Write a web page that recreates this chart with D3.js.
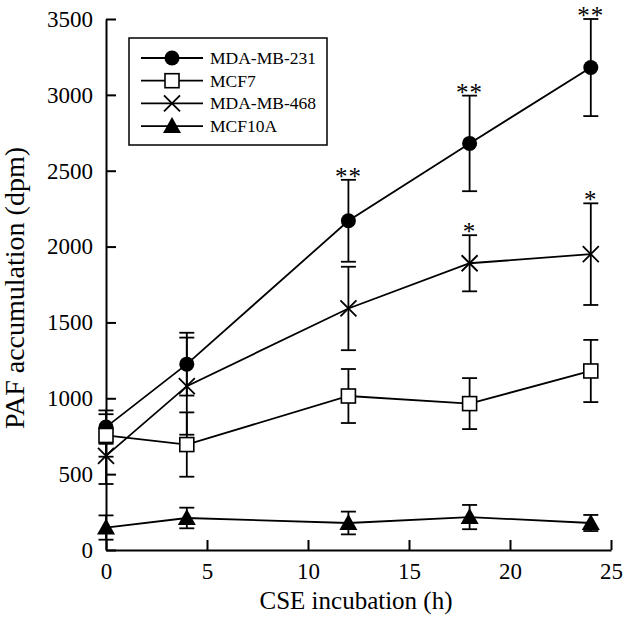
<!DOCTYPE html>
<html>
<head>
<meta charset="utf-8">
<script src="https://cdn.jsdelivr.net/npm/d3@7"></script>
<style>
  body { margin: 0; background: #fff; }
  svg, svg text { font-family: "Liberation Serif", "Times New Roman", Times, serif !important; fill: #000; }
</style>
</head>
<body>
<script>
const width = 625;
const height = 622;

// data
const hours = [0, 4, 12, 18, 24];
const mdamb231 = [810, 1225, 2170, 2680, 3180];
const mdamb231Err = [110, 207, 270, 315, 320];
const mcf7 = [755, 695, 1015, 965, 1180];
const mcf7Err = [140, 212, 178, 168, 205];
const mdamb468 = [620, 1080, 1592, 1890, 1950];
const mdamb468Err = [185, 320, 275, 185, 335];
const mcf10a = [148, 211, 178, 217, 178];
const mcf10aErr = [80, 68, 75, 80, 53];
const stars231 = ['', '', '**', '**', '**'];
const stars468 = ['', '', '', '*', '*'];
const seriesNames = ['MDA-MB-231', 'MCF7', 'MDA-MB-468', 'MCF10A'];
const xTicks = [0, 5, 10, 15, 20, 25];
const yTicks = [0, 500, 1000, 1500, 2000, 2500, 3000, 3500];

const series = [
  { name: seriesNames[0], vals: mdamb231, err: mdamb231Err, stars: stars231, shape: 'circle' },
  { name: seriesNames[1], vals: mcf7, err: mcf7Err, stars: null, shape: 'square' },
  { name: seriesNames[2], vals: mdamb468, err: mdamb468Err, stars: stars468, shape: 'cross' },
  { name: seriesNames[3], vals: mcf10a, err: mcf10aErr, stars: null, shape: 'triangle' }
];

const serif = '"Liberation Serif", "Times New Roman", Times, serif';

const svg = d3.select('body').append('svg')
    .attr('width', width)
    .attr('height', height)
    .style('font-family', serif);

const x = d3.scaleLinear().domain([0, 25]).range([106, 611]);
const y = d3.scaleLinear().domain([0, 3500]).range([550, 19]);

// axes, ticks pointing inward
const xAxis = svg.append('g')
    .attr('transform', `translate(0,${y(0)})`)
    .call(d3.axisBottom(x).tickValues(xTicks).tickFormat(d3.format('d'))
      .tickSize(-10).tickPadding(13).tickSizeOuter(0));
const yAxis = svg.append('g')
    .attr('transform', `translate(${x(0)},0)`)
    .call(d3.axisLeft(y).tickValues(yTicks).tickFormat(d3.format('d'))
      .tickSize(-10).tickPadding(13).tickSizeOuter(0));

[xAxis, yAxis].forEach(g => {
  g.attr('font-family', null).attr('font-size', null);
  g.selectAll('path, line').attr('stroke', '#000').attr('stroke-width', 2);
  g.selectAll('text').style('font-size', '23px').style('font-family', serif);
});

svg.append('text')
    .attr('x', 356).attr('y', 609)
    .attr('text-anchor', 'middle')
    .style('font-size', '25px')
    .text('CSE incubation (h)');

svg.append('text')
    .attr('transform', 'translate(24,288) rotate(-90)')
    .attr('text-anchor', 'middle')
    .style('font-size', '28px')
    .text('PAF accumulation (dpm)');

function drawMarker(g, shape, cx, cy) {
  if (shape === 'circle') {
    g.append('circle').attr('cx', cx).attr('cy', cy).attr('r', 7.5).attr('fill', '#000');
  } else if (shape === 'square') {
    g.append('rect').attr('x', cx - 7).attr('y', cy - 7).attr('width', 14).attr('height', 14)
      .attr('fill', '#fff').attr('stroke', '#000').attr('stroke-width', 1.6);
  } else if (shape === 'cross') {
    g.append('path').attr('d', `M${cx - 8},${cy - 8}L${cx + 8},${cy + 8}M${cx - 8},${cy + 8}L${cx + 8},${cy - 8}`)
      .attr('stroke', '#000').attr('stroke-width', 1.8).attr('fill', 'none');
  } else {
    g.append('path').attr('d', `M${cx},${cy - 9}L${cx + 9},${cy + 7}L${cx - 9},${cy + 7}Z`).attr('fill', '#000');
  }
}

const line = d3.line().x((d, i) => x(hours[i])).y(d => y(d));

// lines
series.forEach(s => {
  svg.append('path')
      .datum(s.vals)
      .attr('d', line)
      .attr('fill', 'none')
      .attr('stroke', '#000')
      .attr('stroke-width', 1.8);
});

// error bars
series.forEach(s => {
  const g = svg.append('g').attr('stroke', '#000').attr('stroke-width', 1.8);
  s.vals.forEach((v, i) => {
    const cx = x(hours[i]);
    const top = y(v + s.err[i]);
    const bot = y(v - s.err[i]);
    g.append('line').attr('x1', cx).attr('x2', cx).attr('y1', top).attr('y2', bot);
    g.append('line').attr('x1', cx - 7.5).attr('x2', cx + 7.5).attr('y1', top).attr('y2', top);
    g.append('line').attr('x1', cx - 7.5).attr('x2', cx + 7.5).attr('y1', bot).attr('y2', bot);
  });
});

// markers
series.forEach(s => {
  const g = svg.append('g');
  s.vals.forEach((v, i) => drawMarker(g, s.shape, x(hours[i]), y(v)));
});

// significance stars
series.filter(s => s.stars).forEach(s => {
  s.vals.forEach((v, i) => {
    if (!s.stars[i]) return;
    svg.append('text')
        .attr('x', x(hours[i]))
        .attr('y', y(v + s.err[i]) + 5)
        .attr('text-anchor', 'middle')
        .style('font-size', '25px')
        .attr('letter-spacing', 1)
        .text(s.stars[i]);
  });
});

// legend
const legend = svg.append('g');
legend.append('rect')
    .attr('x', 129).attr('y', 38).attr('width', 198).attr('height', 107)
    .attr('fill', '#fff').attr('stroke', '#000').attr('stroke-width', 1.5);
series.forEach((s, i) => {
  const ly = 58 + i * 22.7;
  legend.append('line').attr('x1', 141).attr('x2', 203).attr('y1', ly).attr('y2', ly)
      .attr('stroke', '#000').attr('stroke-width', 1.8);
  drawMarker(legend, s.shape, 172, ly);
  legend.append('text').attr('x', 210).attr('y', ly + 6)
      .style('font-size', '17.5px').text(s.name);
});
</script>
</body>
</html>
